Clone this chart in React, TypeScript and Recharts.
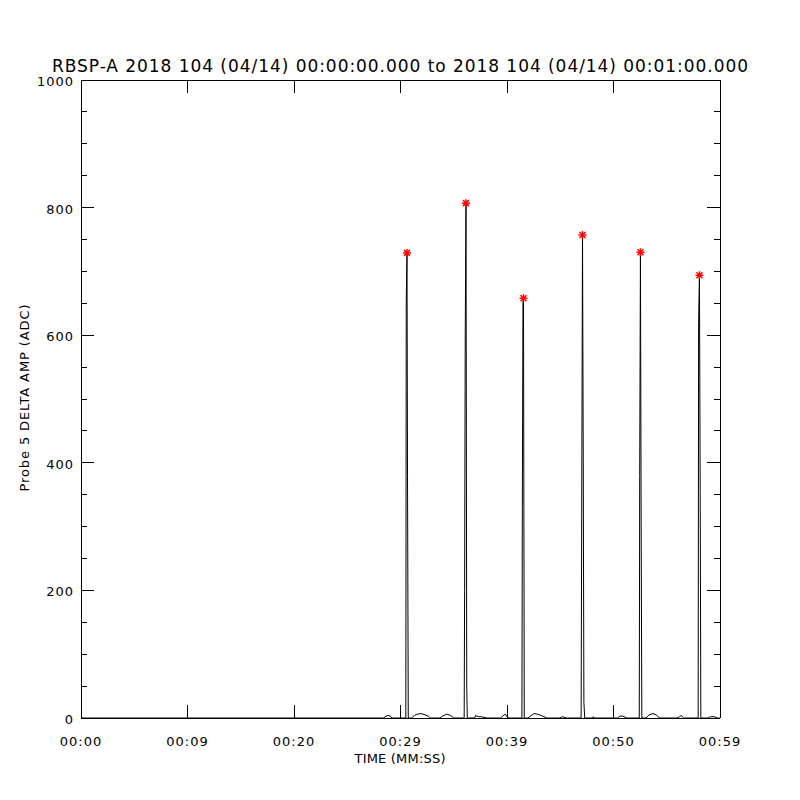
import { ComposedChart, Line, ReferenceLine, Scatter, XAxis, YAxis } from "recharts";

const timeSec = [
  0, 28.4, 28.55, 28.8, 29.05, 29.2, 30.5, 30.54, 30.61, 30.66, 30.73, 31.05, 31.3, 31.6, 31.93,
  32.3, 32.6, 32.8, 33.7, 33.95, 34.35, 34.7, 35.0, 35.98, 36.02, 36.08, 36.15, 36.22, 36.27,
  36.95, 37.05, 37.3, 37.6, 38.1, 39.4, 39.6, 39.85, 40.1, 41.4, 41.44, 41.5, 41.55, 41.62,
  41.95, 42.2, 42.55, 42.85, 43.2, 43.75, 44.95, 45.2, 45.6, 46.96, 47.0, 47.09, 47.16, 47.22,
  47.3, 48.05, 48.1, 48.15, 50.4, 50.6, 50.85, 51.25, 52.42, 52.46, 52.53, 52.6, 52.66, 53.05,
  53.35, 53.7, 54.0, 54.35, 55.95, 56.2, 56.35, 56.6, 57.95, 57.99, 58.07, 58.14, 58.2, 58.85,
  59.1, 59.45, 59.75, 60,
];
const deltaAmp = [
  0, 0, 2, 4, 3, 0, 0, 655, 729, 378, 0, 0, 4, 6, 7,
  5, 3, 0, 0, 3, 6, 4, 0, 0, 200, 605, 807, 50, 0,
  0, 4, 2, 2, 0, 0, 3, 6, 0, 0, 330, 655, 658, 0,
  0, 3, 7, 6, 4, 0, 0, 2, 0, 0, 235, 757, 400, 24,
  0, 0, 2, 0, 0, 3, 3, 0, 0, 380, 730, 285, 0, 0,
  5, 7, 5, 0, 0, 2, 4, 0, 0, 620, 694, 355, 0, 0,
  2, 2, 0, 0,
];

const peakTimes = [30.61, 36.15, 41.55, 47.09, 52.53, 58.07];
const peakAmps = [729, 807, 658, 757, 730, 694];

const xTicks = [0, 10, 20, 30, 40, 50, 60];
const xTickLabels = ["00:00", "00:09", "00:20", "00:29", "00:39", "00:50", "00:59"];
const yTicks = [
  0, 50, 100, 150, 200, 250, 300, 350, 400, 450, 500, 550, 600, 650, 700, 750, 800, 850, 900,
  950, 1000,
];

const title = "RBSP-A 2018 104 (04/14) 00:00:00.000 to 2018 104 (04/14) 00:01:00.000";

const series = timeSec.map((t, i) => ({ t, amp: deltaAmp[i] }));
const peaks = peakTimes.map((t, i) => ({ t, amp: peakAmps[i] }));

const font = "DejaVu Sans, Verdana, sans-serif";
const CHART_H = 800;
const TOP = 80;
const X_AXIS_H = 82;
const PLOT_H = CHART_H - TOP - X_AXIS_H;

const LeftTick = (props: any) => {
  const { x, y, payload } = props;
  const major = payload.value % 200 === 0;
  return (
    <g>
      <line x1={x} y1={y} x2={x + (major ? 13 : 6)} y2={y} stroke="#000" shapeRendering="crispEdges" />
      {major && (
        <text x={x - 7} y={y + 6} textAnchor="end" fontFamily={font} fontSize={13} letterSpacing={1} fill="#000">
          {payload.value}
        </text>
      )}
    </g>
  );
};

const RightTick = (props: any) => {
  const { x, y, payload } = props;
  const major = payload.value % 200 === 0;
  return <line x1={x} y1={y} x2={x - (major ? 13 : 6)} y2={y} stroke="#000" shapeRendering="crispEdges" />;
};

// bottom ticks also draw the matching inward tick on the top frame
const BottomTick = (props: any) => {
  const { x, y, payload, index } = props;
  return (
    <g>
      <line x1={x} y1={y} x2={x} y2={y - 13} stroke="#000" shapeRendering="crispEdges" />
      <line x1={x} y1={y - PLOT_H} x2={x} y2={y - PLOT_H + 13} stroke="#000" shapeRendering="crispEdges" />
      <text x={x} y={y + 28} textAnchor="middle" fontFamily={font} fontSize={13} letterSpacing={1} fill="#000">
        {xTickLabels[index] ?? payload.value}
      </text>
    </g>
  );
};

const Asterisk = (props: any) => {
  const { cx, cy } = props;
  const r = 4;
  return (
    <g stroke="#ff0000" strokeWidth={1.5}>
      <line x1={cx - r} y1={cy} x2={cx + r} y2={cy} />
      <line x1={cx} y1={cy - r} x2={cx} y2={cy + r} />
      <line x1={cx - 3} y1={cy - 3} x2={cx + 3} y2={cy + 3} />
      <line x1={cx - 3} y1={cy + 3} x2={cx + 3} y2={cy - 3} />
    </g>
  );
};

const frame = { stroke: "#000", shapeRendering: "crispEdges" };

export default function App() {
  return (
    <div style={{ position: "absolute", left: 0, top: 0, width: 800, height: 800, background: "#fff" }}>
      <ComposedChart width={800} height={CHART_H} data={series} margin={{ top: TOP, right: 0, bottom: 0, left: 0 }}>
        <XAxis
          xAxisId="bottom"
          dataKey="t"
          type="number"
          domain={[0, 60]}
          ticks={xTicks}
          height={X_AXIS_H}
          tickSize={0}
          tickMargin={0}
          tickLine={false}
          axisLine={frame}
          tick={<BottomTick />}
          interval={0}
        />
        <YAxis
          yAxisId="left"
          type="number"
          domain={[0, 1000]}
          ticks={yTicks}
          width={81}
          tickSize={0}
          tickMargin={0}
          tickLine={false}
          axisLine={frame}
          tick={<LeftTick />}
          interval={0}
        />
        <YAxis
          yAxisId="right"
          orientation="right"
          type="number"
          domain={[0, 1000]}
          ticks={yTicks}
          width={80}
          tickSize={0}
          tickMargin={0}
          tickLine={false}
          axisLine={frame}
          tick={<RightTick />}
          interval={0}
        />
        <ReferenceLine
          xAxisId="bottom"
          yAxisId="left"
          y={1000}
          stroke="#000"
          strokeWidth={1}
          shapeRendering="crispEdges"
          ifOverflow="visible"
        />
        {/* invisible copy so the right frame axis gets its ticks */}
        <Line
          xAxisId="bottom"
          yAxisId="right"
          dataKey="amp"
          type="linear"
          stroke="none"
          dot={false}
          activeDot={false}
          isAnimationActive={false}
        />
        <Line
          xAxisId="bottom"
          yAxisId="left"
          dataKey="amp"
          type="linear"
          stroke="#000"
          strokeWidth={1}
          dot={false}
          activeDot={false}
          isAnimationActive={false}
        />
        <Scatter
          xAxisId="bottom"
          yAxisId="left"
          data={peaks}
          dataKey="amp"
          shape={<Asterisk />}
          isAnimationActive={false}
        />
      </ComposedChart>
      <svg width={800} height={800} style={{ position: "absolute", left: 0, top: 0, pointerEvents: "none" }}>
        <text x={400} y={72} textAnchor="middle" fontFamily={font} fontSize={17} textLength={696} lengthAdjust="spacing" fill="#000">
          {title}
        </text>
        <text x={400} y={763} textAnchor="middle" fontFamily={font} fontSize={13} textLength={91} lengthAdjust="spacing" fill="#000">
          TIME (MM:SS)
        </text>
        <text
          x={29}
          y={398}
          transform="rotate(-90 29 398)"
          textAnchor="middle"
          fontFamily={font}
          fontSize={13}
          textLength={187}
          lengthAdjust="spacing"
          fill="#000"
        >
          Probe 5 DELTA AMP (ADC)
        </text>
      </svg>
    </div>
  );
}
